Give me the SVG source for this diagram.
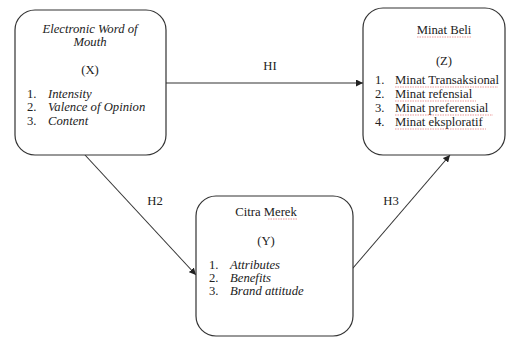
<svg xmlns="http://www.w3.org/2000/svg" width="511" height="340" viewBox="0 0 511 340">
<defs>
<style>
.box{fill:#fff;stroke:#333;stroke-width:1.2}
.t{font-family:"Liberation Serif","Times New Roman",serif;font-size:12.7px;fill:#222}
.i{font-style:italic}
.c{text-anchor:middle}
.edge{stroke:#333;stroke-width:1.1;fill:none;marker-end:url(#ah)}
.sq{stroke:#d55;stroke-width:0.6;fill:none;stroke-dasharray:1.5 1}
</style>
<marker id="ah" viewBox="0 0 10 10" refX="10" refY="5" markerWidth="7" markerHeight="7" orient="auto" markerUnits="userSpaceOnUse">
<path d="M0,0 L10,5 L0,10 z" fill="#222"/>
</marker>
</defs>
<rect width="511" height="340" fill="#fff"/>
<g id="connectors">
<line class="edge" x1="166" y1="83" x2="363" y2="83"/>
<line class="edge" x1="85" y1="155" x2="196" y2="275"/>
<line class="edge" x1="347" y1="275" x2="450" y2="155"/>
<text class="t c" x="270" y="70">HI</text>
<text class="t c" x="155" y="205">H2</text>
<text class="t c" x="391" y="205">H3</text>
</g>
<g id="nodeX">
<rect class="box" x="15" y="10" width="151" height="145" rx="20"/>
<text class="t i c" x="90" y="33">Electronic Word of</text>
<text class="t i c" x="90" y="46">Mouth</text>
<text class="t c" x="90" y="74">(X)</text>
<text class="t" x="27" y="98">1.</text><text class="t i" x="48" y="98">Intensity</text>
<text class="t" x="27" y="111">2.</text><text class="t i" x="48" y="111">Valence of Opinion</text>
<text class="t" x="27" y="125">3.</text><text class="t i" x="48" y="125">Content</text>
</g>
<g id="nodeZ">
<rect class="box" x="363" y="8" width="142" height="147" rx="20"/>
<text class="t c" x="444" y="34">Minat Beli</text>
<line class="sq" x1="417" y1="37" x2="471" y2="37"/>
<text class="t c" x="444" y="65">(Z)</text>
<text class="t" x="375" y="84">1.</text><text class="t" x="395" y="84">Minat Transaksional</text>
<line class="sq" x1="395" y1="87" x2="498" y2="87"/>
<text class="t" x="375" y="98">2.</text><text class="t" x="395" y="98">Minat refensial</text>
<line class="sq" x1="395" y1="101" x2="476" y2="101"/>
<text class="t" x="375" y="112">3.</text><text class="t" x="395" y="112">Minat preferensial</text>
<line class="sq" x1="395" y1="115" x2="493" y2="115"/>
<text class="t" x="375" y="126">4.</text><text class="t" x="395" y="126">Minat eksploratif</text>
<line class="sq" x1="395" y1="129" x2="486" y2="129"/>
</g>
<g id="nodeY">
<rect class="box" x="196" y="196" width="157" height="140" rx="20"/>
<text class="t c" x="266" y="216">Citra Merek</text>
<line class="sq" x1="268" y1="219" x2="297" y2="219"/>
<text class="t c" x="266" y="245">(Y)</text>
<text class="t" x="209" y="269">1.</text><text class="t i" x="230" y="269">Attributes</text>
<text class="t" x="209" y="282">2.</text><text class="t i" x="230" y="282">Benefits</text>
<text class="t" x="209" y="295">3.</text><text class="t i" x="230" y="295">Brand attitude</text>
</g>
</svg>
